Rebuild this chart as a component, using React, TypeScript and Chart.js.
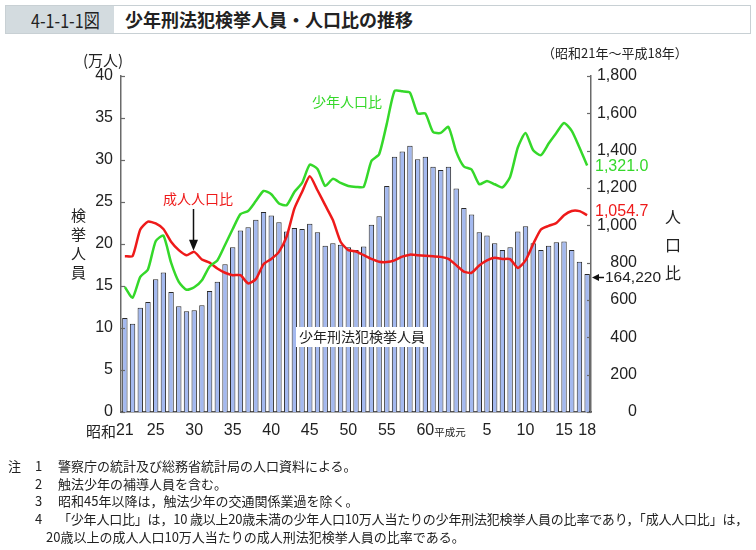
import React, { useEffect, useRef } from "react";
import { Chart, registerables } from "chart.js";

Chart.register(...registerables);

// ---------- data ----------
const categories = [
  "昭和21", "昭和22", "昭和23", "昭和24", "昭和25", "昭和26", "昭和27", "昭和28", "昭和29", "昭和30",
  "昭和31", "昭和32", "昭和33", "昭和34", "昭和35", "昭和36", "昭和37", "昭和38", "昭和39", "昭和40",
  "昭和41", "昭和42", "昭和43", "昭和44", "昭和45", "昭和46", "昭和47", "昭和48", "昭和49", "昭和50",
  "昭和51", "昭和52", "昭和53", "昭和54", "昭和55", "昭和56", "昭和57", "昭和58", "昭和59", "昭和60",
  "昭和61", "昭和62", "昭和63",
  "平成元", "平成2", "平成3", "平成4", "平成5", "平成6", "平成7", "平成8", "平成9", "平成10",
  "平成11", "平成12", "平成13", "平成14", "平成15", "平成16", "平成17", "平成18",
];

// 少年刑法犯検挙人員 (万人)
const arrests = [
  11.2, 10.5, 12.4, 13.1, 15.8, 16.6, 14.3, 12.6, 12.0, 12.1,
  12.7, 14.4, 15.5, 17.6, 19.6, 21.6, 22.0, 22.9, 23.8, 23.4,
  22.6, 21.5, 21.9, 21.8, 22.4, 21.4, 19.8, 20.1, 19.9, 19.6,
  19.3, 19.7, 22.3, 23.3, 26.9, 30.4, 31.0, 31.7, 30.1, 30.4,
  29.2, 28.8, 29.2,
  26.6, 24.3, 23.5, 21.4, 21.0, 20.1, 19.3, 19.6, 21.5, 22.1,
  20.1, 19.3, 19.8, 20.2, 20.3, 19.3, 17.9, 16.422,
];

// 少年人口比
const juvenileRate = [
  670, 612, 724, 764, 915, 945, 800, 697, 655, 668,
  706, 780, 812, 895, 980, 1060, 1077, 1130, 1184, 1167,
  1117, 1108, 1179, 1227, 1325, 1302, 1211, 1249, 1227, 1211,
  1206, 1206, 1345, 1381, 1545, 1720, 1718, 1711, 1599, 1599,
  1500, 1495, 1527,
  1395, 1315, 1299, 1220, 1238, 1220, 1203, 1259, 1417, 1495,
  1402, 1376, 1438, 1495, 1548, 1506, 1417, 1321.0,
];

// 成人人口比
const adultRate = [
  835, 835, 978, 1020, 1010, 980, 912, 867, 840, 858,
  817, 800, 769, 746, 733, 733, 689, 712, 792, 820,
  858, 940, 1090, 1179, 1263, 1188, 1108, 1028, 912, 867,
  860, 840, 820, 805, 803, 812, 832, 843, 840, 837,
  834, 831, 820,
  787, 752, 746, 785, 812, 826, 820, 819, 772, 812,
  900, 978, 997, 1013, 1054, 1077, 1076, 1054.7,
];

const leftTicks = [0, 5, 10, 15, 20, 25, 30, 35, 40];
const rightTicks = [0, 200, 400, 600, 800, 1000, 1200, 1400, 1600, 1800];
const xTickIndex = [0, 4, 9, 14, 19, 24, 29, 34, 39, 47, 52, 57, 60];
const xTickText = ["21", "25", "30", "35", "40", "45", "50", "55", "60", "5", "10", "15", "18"];
const showaPrefix = "昭和";
const heiseiFirst = "平成元";

const notes = [
  ["注", "1", "警察庁の統計及び総務省統計局の人口資料による。"],
  ["", "2", "触法少年の補導人員を含む。"],
  ["", "3", "昭和45年以降は，触法少年の交通関係業過を除く。"],
  ["", "4", "「少年人口比」は，10 歳以上20歳未満の少年人口10万人当たりの少年刑法犯検挙人員の比率であり，「成人人口比」は，"],
];
const noteCont = "20歳以上の成人人口10万人当たりの成人刑法犯検挙人員の比率である。";

// ---------- styles ----------
const GREEN = "#35d82a";
const RED = "#ee1a1a";
const BAR = "#a4b9ef";
const AXIS = "#6a6a6a";
const TEXT = "#222";
const NUM = '"Liberation Sans", Arial, sans-serif';
const CJK = '"Noto Sans CJK JP", "Noto Sans", sans-serif';

const fmt = (v: number, d = 0) =>
  v.toLocaleString("en-US", { minimumFractionDigits: d, maximumFractionDigits: d });

const annotPlugin = {
  id: "annot",
  afterDraw(chart: any) {
    const { ctx, chartArea: a, scales } = chart;
    const xs = scales.x, ys = scales.y, y1 = scales.y1;
    ctx.save();

    // inward tick marks
    ctx.strokeStyle = AXIS;
    ctx.lineWidth = 1.2;
    for (const v of leftTicks) {
      const py = Math.round(ys.getPixelForValue(v)) + 0.5;
      ctx.beginPath(); ctx.moveTo(a.left, py); ctx.lineTo(a.left + 4, py); ctx.stroke();
    }
    for (const v of rightTicks) {
      const py = Math.round(y1.getPixelForValue(v)) + 0.5;
      ctx.beginPath(); ctx.moveTo(a.right - 4, py); ctx.lineTo(a.right, py); ctx.stroke();
    }

    // x labels
    ctx.fillStyle = TEXT;
    ctx.textBaseline = "middle";
    const ly = a.bottom + 19;
    xTickIndex.forEach((idx, k) => {
      const px = xs.getPixelForValue(idx);
      const t = xTickText[k];
      ctx.font = `16px ${NUM}`;
      ctx.textAlign = "center";
      ctx.fillText(t, px, ly);
      const w = ctx.measureText(t).width;
      if (k === 0) {
        ctx.font = `15px ${CJK}`;
        ctx.textAlign = "right";
        ctx.fillText(showaPrefix, px - w / 2, ly);
      }
      if (t === "60") {
        ctx.font = `10.5px ${CJK}`;
        ctx.textAlign = "left";
        ctx.fillText(heiseiFirst, px + w / 2, ly + 1);
      }
    });

    // label box for bars
    ctx.font = `14px ${CJK}`;
    const barLabel = "少年刑法犯検挙人員";
    const bw = ctx.measureText(barLabel).width;
    const bx = 299, by = 337;
    ctx.fillStyle = "#fff";
    ctx.fillRect(bx - 3, by - 10, bw + 6, 20);
    ctx.fillStyle = TEXT;
    ctx.textAlign = "left";
    ctx.fillText(barLabel, bx, by);

    // series labels
    ctx.font = `14px ${CJK}`;
    ctx.fillStyle = GREEN;
    ctx.fillText("少年人口比", 312, 102);
    ctx.fillStyle = RED;
    ctx.fillText("成人人口比", 163, 199);

    // arrow to adult rate at 昭和30
    const ax = Math.round(xs.getPixelForValue(9)) - 0.5;
    const tipY = y1.getPixelForValue(adultRate[9]) - 1;
    ctx.strokeStyle = "#111";
    ctx.fillStyle = "#111";
    ctx.lineWidth = 1.5;
    ctx.beginPath(); ctx.moveTo(ax, 209); ctx.lineTo(ax, tipY - 8); ctx.stroke();
    ctx.beginPath(); ctx.moveTo(ax - 4.5, tipY - 11); ctx.lineTo(ax + 4.5, tipY - 11); ctx.lineTo(ax, tipY); ctx.closePath(); ctx.fill();

    // end values
    ctx.font = `16px ${NUM}`;
    ctx.textAlign = "left";
    ctx.fillStyle = GREEN;
    const last = juvenileRate.length - 1;
    ctx.fillText(fmt(juvenileRate[last], 1), a.right + 4, y1.getPixelForValue(juvenileRate[last]) + 1);
    ctx.fillStyle = RED;
    ctx.fillText(fmt(adultRate[last], 1), a.right + 4, y1.getPixelForValue(adultRate[last]) - 4);

    // arrest count arrow
    const ay = Math.round(ys.getPixelForValue(arrests[last])) + 3.5;
    ctx.fillStyle = "#111";
    ctx.strokeStyle = "#111";
    ctx.lineWidth = 1.5;
    ctx.beginPath(); ctx.moveTo(a.right + 6, ay); ctx.lineTo(a.right + 13, ay); ctx.stroke();
    ctx.beginPath(); ctx.moveTo(a.right + 1, ay); ctx.lineTo(a.right + 8, ay - 3.5); ctx.lineTo(a.right + 8, ay + 3.5); ctx.closePath(); ctx.fill();
    ctx.fillStyle = TEXT;
    ctx.font = `15.5px ${NUM}`;
    ctx.fillText(fmt(Math.round(arrests[last] * 10000)), a.right + 14, ay);

    ctx.restore();
  },
};

export default function App() {
  const ref = useRef<HTMLCanvasElement | null>(null);

  useEffect(() => {
    if (!ref.current) return;
    const chart = new Chart(ref.current, {
      data: {
        labels: categories,
        datasets: [
          {
            type: "line",
            label: "少年人口比",
            data: juvenileRate,
            yAxisID: "y1",
            borderColor: GREEN,
            borderWidth: 2.5,
            pointRadius: 0,
            tension: 0.2,
            order: 0,
          },
          {
            type: "line",
            label: "成人人口比",
            data: adultRate,
            yAxisID: "y1",
            borderColor: RED,
            borderWidth: 2.5,
            pointRadius: 0,
            tension: 0.2,
            order: 1,
          },
          {
            type: "bar",
            label: "少年刑法犯検挙人員",
            data: arrests,
            yAxisID: "y",
            backgroundColor: BAR,
            borderColor: "#2a2a2a",
            borderWidth: 1,
            barPercentage: 0.7,
            categoryPercentage: 1,
            order: 2,
          },
        ],
      } as any,
      options: {
        animation: false,
        responsive: false,
        maintainAspectRatio: false,
        layout: { padding: { left: 0, right: 119, top: 76, bottom: 0 } },
        plugins: { legend: { display: false }, tooltip: { enabled: false } },
        scales: {
          x: {
            grid: { display: false, drawTicks: false },
            ticks: { display: false },
            border: { color: "#555", width: 1.5 },
            afterFit(s: any) { s.height = 138; },
          },
          y: {
            position: "left",
            min: 0,
            max: 40,
            afterBuildTicks(s: any) { s.ticks = leftTicks.map((v) => ({ value: v })); },
            ticks: { padding: 8, color: TEXT, font: { family: NUM, size: 16 } },
            grid: { display: false, drawTicks: false },
            border: { color: AXIS, width: 1.5 },
            afterFit(s: any) { s.width = 121; },
          },
          y1: {
            position: "right",
            min: 0,
            max: 1800,
            afterBuildTicks(s: any) { s.ticks = rightTicks.map((v) => ({ value: v })); },
            ticks: {
              padding: 8,
              crossAlign: "far",
              color: TEXT,
              font: { family: NUM, size: 16 },
              callback: (v: any) => fmt(Number(v)),
            },
            grid: { display: false, drawTicks: false },
            border: { color: AXIS, width: 1.5 },
            afterFit(s: any) { s.width = 46; },
          },
        },
      } as any,
      plugins: [annotPlugin],
    });
    return () => chart.destroy();
  }, []);

  const abs = (l: number, t: number, extra: React.CSSProperties = {}): React.CSSProperties => ({
    position: "absolute", left: l, top: t, whiteSpace: "nowrap", lineHeight: 1, ...extra,
  });

  return (
    <div style={{ position: "absolute", left: 0, top: 0, width: 756, height: 550, background: "#fff", fontFamily: CJK, color: TEXT }}>
      {/* title band */}
      <div style={{ position: "absolute", left: 5, top: 5, width: 744, height: 27, border: "1px solid #c8d0d4", background: "#fff" }}>
        <div style={{ position: "absolute", left: 0, top: 0, width: 108, height: 27, background: "#d3dbdf" }} />
        <div style={abs(25, 4, { fontSize: 19, transform: "scaleX(0.85)", transformOrigin: "left top", color: "#222" })}>4-1-1-1図</div>
        <div style={abs(119, 4, { fontSize: 18, fontWeight: 700, color: "#222" })}>少年刑法犯検挙人員・人口比の推移</div>
      </div>

      <canvas ref={ref} width={756} height={550} style={{ position: "absolute", left: 0, top: 0 }} />

      {/* axis titles */}
      <div style={abs(83, 52, { fontSize: 15 })}>(万人)</div>
      <div style={abs(542, 46, { fontSize: 13 })}>（昭和21年～平成18年）</div>
      {["検", "挙", "人", "員"].map((c, i) => (
        <div key={c} style={abs(71, 207 + i * 19, { fontSize: 15 })}>{c}</div>
      ))}
      {["人", "口", "比"].map((c, i) => (
        <div key={c} style={abs(665, 208 + i * 28, { fontSize: 16 })}>{c}</div>
      ))}

      {/* notes */}
      {notes.map((n, i) => (
        <div key={i} style={{ position: "absolute", top: 459 + i * 17.7, left: 0, fontSize: 13, lineHeight: 1, whiteSpace: "nowrap" }}>
          <span style={{ position: "absolute", left: 8 }}>{n[0]}</span>
          <span style={{ position: "absolute", left: 35 }}>{n[1]}</span>
          <span style={{ position: "absolute", left: 58, letterSpacing: i === 3 ? -0.2 : 0 }}>{n[2]}</span>
        </div>
      ))}
      <div style={abs(46, 459 + 4 * 17.7, { fontSize: 13 })}>{noteCont}</div>
    </div>
  );
}
